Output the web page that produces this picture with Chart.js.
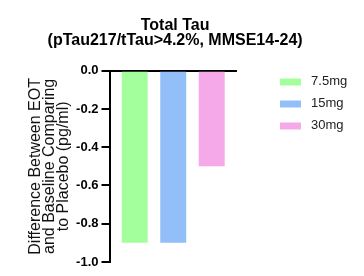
<!DOCTYPE html>
<html>
<head>
<meta charset="utf-8">
<script src="https://cdn.jsdelivr.net/npm/chart.js@4.4.1/dist/chart.umd.min.js"></script>
<style>
  html, body { margin: 0; padding: 0; background: #fff; }
  #wrap { width: 364px; height: 276px; }
</style>
</head>
<body>
<div id="wrap"><canvas id="tauChart"></canvas></div>
<script>
// Dữ liệu
const doses = ['7.5mg', '15mg', '30mg'];
const diffValues = [-0.9, -0.9, -0.5];
const doseColors = ['#A3FF9C', '#93BFF9', '#F6A9E8'];
const yTicks = [0, -0.2, -0.4, -0.6, -0.8, -1.0];

const font = 'Liberation Sans, Arial, sans-serif';

const datasets = doses.map((d, i) => ({
  label: d,
  data: [diffValues[i]],
  backgroundColor: doseColors[i],
  borderWidth: 0,
  categoryPercentage: 0.906,
  barPercentage: 0.675
}));

const ctx = document.getElementById('tauChart').getContext('2d');
new Chart(ctx, {
  type: 'bar',
  data: { labels: ['Total Tau'], datasets },
  options: {
    responsive: true,
    maintainAspectRatio: false,
    animation: false,
    layout: { padding: { left: -7, right: 6.8, top: 0, bottom: 14 } },
    plugins: {
      tooltip: { enabled: false },
      title: {
        display: true,
        text: ['Total Tau', '(pTau217/tTau>4.2%, MMSE14-24)'],
        color: '#000',
        font: { family: font, size: 16, weight: 'bold', lineHeight: 15 / 16 },
        padding: { top: 18, bottom: 22.7 }
      },
      legend: {
        position: 'right',
        align: 'start',
        maxWidth: 120,
        title: { display: true, text: '', font: { size: 12, lineHeight: 1.2 }, padding: { top: 52, bottom: 0 } },
        labels: {
          boxWidth: 21,
          boxHeight: 7,
          padding: 9,
          color: '#222',
          font: { family: font, size: 13 },
          generateLabels: chart => Chart.defaults.plugins.legend.labels.generateLabels(chart)
            .map(item => ({ ...item, text: ' ' + item.text, lineWidth: 0 }))
        }
      }
    },
    scales: {
      x: { display: false },
      y: {
        min: -1,
        max: 0,
        z: 1,
        afterBuildTicks: s => { s.ticks = yTicks.map(v => ({ value: v })); },
        afterFit: s => { s.width = 116.5; },
        border: { display: true, color: '#000', width: 2 },
        grid: {
          drawOnChartArea: true,
          color: c => (c.tick && c.tick.value === 0 ? '#000' : 'rgba(0,0,0,0)'),
          tickColor: '#000',
          lineWidth: 2,
          tickWidth: 2,
          tickLength: 8
        },
        ticks: {
          color: '#000',
          padding: 3,
          font: { family: font, size: 13, weight: 'bold' },
          callback: v => Number(v).toFixed(1)
        },
        title: {
          display: true,
          text: ['Difference Between EOT', 'and Baseline Comparing', 'to Placebo (pg/ml)'],
          color: '#111',
          font: { family: font, size: 16, lineHeight: 0.875 },
          padding: { top: 35.5, bottom: 0 }
        }
      },
      y2: {
        position: 'right',
        grid: { display: false },
        ticks: { display: false },
        border: { display: false },
        afterFit: s => { s.width = 34; }
      }
    }
  }
});
</script>
</body>
</html>
